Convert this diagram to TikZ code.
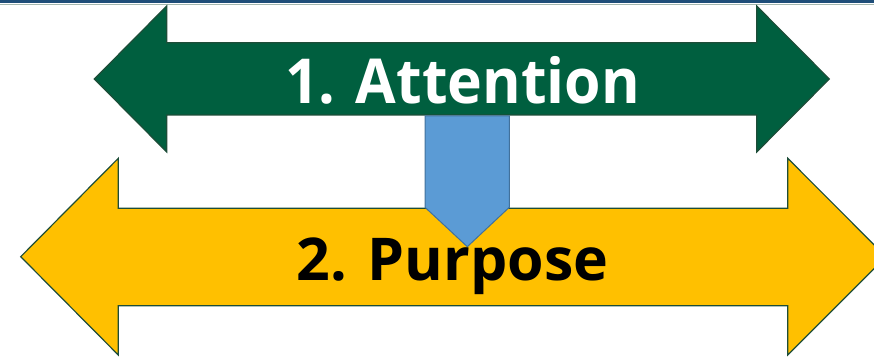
\documentclass[tikz,border=0pt]{standalone}
\usepackage{fontspec}
\setmainfont{Open Sans}
\usepackage{xcolor}
\usetikzlibrary{positioning}

\definecolor{attgreen}{HTML}{005F3F}
\definecolor{attedge}{HTML}{1D4D38}
\definecolor{purpyellow}{HTML}{FFC000}
\definecolor{linkblue}{HTML}{5B9BD5}
\definecolor{linkedge}{HTML}{41719C}
\definecolor{topband}{HTML}{1F4E79}

\begin{document}
\begin{tikzpicture}[
  x=1pt, y=-1pt,
  bigarrow/.style={draw=attedge, line width=1.2pt, line join=miter, fill=#1},
  link/.style={draw=linkedge, line width=1pt, fill=linkblue},
  label/.style={font=\bfseries\fontsize{#1}{#1}\selectfont, inner sep=0pt, anchor=base}
]
\useasboundingbox (0,0) rectangle (874,358);
\clip (0,0) rectangle (874,358);
\fill[topband] (0,0) rectangle (874,3.5);
\draw[attedge!40, line width=0.8pt] (0,4.6) -- (874,4.6);
% 1. attention arrow
\draw[bigarrow=attgreen] (94.3,79) -- (166.7,6) -- (166.7,42.7) -- (756.7,42.7) -- (756.7,6)
  -- (829.3,79) -- (756.7,152) -- (756.7,115) -- (166.7,115) -- (166.7,152) -- cycle;
% 2. purpose arrow
\draw[bigarrow=purpyellow] (20.7,256.7) -- (118.3,158.3) -- (118.3,208.3) -- (787.7,208.3) -- (787.7,158.3)
  -- (886,256.7) -- (787.7,355) -- (787.7,305.7) -- (118.3,305.7) -- (118.3,355) -- cycle;
% link between the two
\draw[link] (425,116) -- (509.3,116) -- (509.3,207.3) -- (467.3,246.7) -- (425,207.3) -- cycle;
\node[label=62, text=white] (att) at (462.5,103.3) {\scalebox{0.95}[1]{1. Attention}};
\node[label=59, text=black] (purp) at (452.5,280) {2. Purpose};
\end{tikzpicture}
\end{document}
